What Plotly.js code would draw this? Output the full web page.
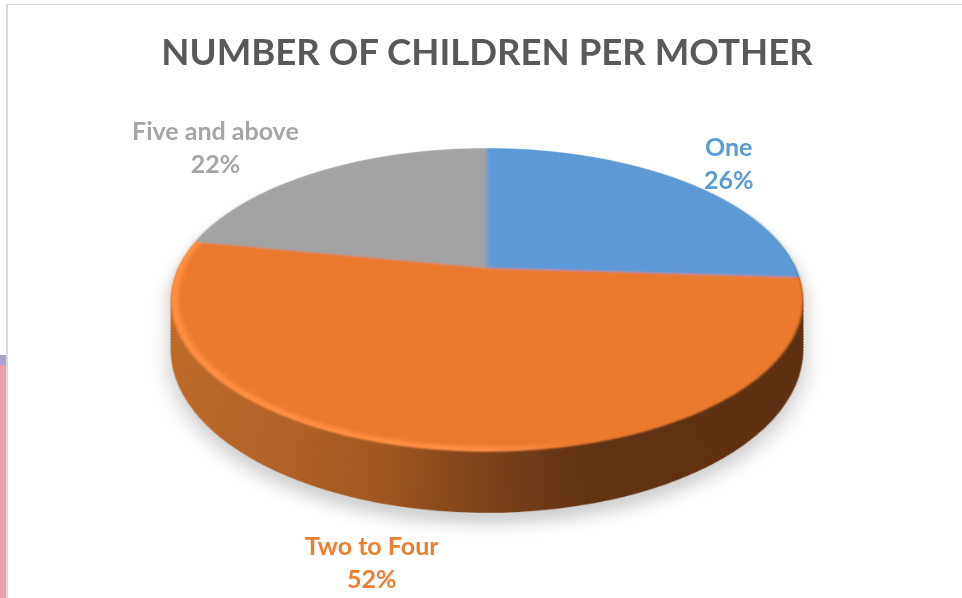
<!DOCTYPE html>
<html>
<head>
<meta charset="utf-8">
<script src="https://cdn.plot.ly/plotly-3.0.1.min.js"></script>
<style>
html,body{margin:0;padding:0;background:#fff;overflow:hidden}
#wrap{position:relative;width:962px;height:598px;overflow:hidden}
#pie{position:absolute;left:-13px;top:-232px;width:1000px;height:1000px;
  transform-origin:500px 500px;transform:perspective(1296px) rotateX(62deg);
  filter:drop-shadow(0 14px 8px rgba(0,0,0,.18))}
#chart{position:absolute;left:0;top:0;width:962px;height:598px}
</style>
</head>
<body>
<div id="wrap"><div id="pie"></div><div id="chart"></div></div>
<script>
const titleText = "NUMBER OF CHILDREN PER MOTHER";
const categories = ["One", "Two to Four", "Five and above"];
const values = [26, 52, 22];
const sliceColors = ["#5b9bd5", "#ed7d31", "#a5a5a5"];
const topColors = ["#5b99d6", "#e97a2f", "#a3a3a3"];
const labelX = [729, 372, 215];
const labelY = [163, 561, 147];

// ---- extruded pie: stacked pie traces, tilted afterwards
const SIZE = 1000, R = 309, DEPTH = 96, STEP = 2, SHRINK = 0.883 / 1296;
function pieTrace(radius, shift, colors, name) {
  const cy = SIZE / 2 + shift;
  return {
    type: "pie", name: name, labels: categories, values: values, sort: false,
    direction: "clockwise", rotation: 0, textinfo: "none", hoverinfo: "skip",
    showlegend: false, marker: {colors: colors, line: {width: 0}},
    domain: {
      x: [(SIZE / 2 - radius) / SIZE, (SIZE / 2 + radius) / SIZE],
      y: [1 - (cy + radius) / SIZE, 1 - (cy - radius) / SIZE]
    }
  };
}
const traces = [];
for (let s = DEPTH; s > 0; s -= STEP) {
  traces.push(pieTrace(R * (1 - s * SHRINK), s, ["#5f3112", "#5f3112", "#5f3112"], "side"));
}
traces.push(pieTrace(R, 0, sliceColors, "rim"));
traces.push(pieTrace(R - 7, 0, topColors, "top"));

const sideStops = [[0, "#c06c28"], [0.2, "#b5652a"], [0.36, "#a3581f"], [0.47, "#84461a"],
                   [0.62, "#623313"], [1, "#5c2f11"]];
const rimStops = [[0, "#ff8f42"], [0.5, "#ff9046"], [0.62, "#e97a2f"], [1, "#e97a2f"]];

const NS = "http://www.w3.org/2000/svg";
function addGradient(defs, id, stops) {
  const g = document.createElementNS(NS, "linearGradient");
  g.setAttribute("id", id);
  g.setAttribute("gradientUnits", "userSpaceOnUse");
  g.setAttribute("x1", SIZE / 2 - R); g.setAttribute("x2", SIZE / 2 + R);
  g.setAttribute("y1", 0); g.setAttribute("y2", 0);
  stops.forEach(st => {
    const e = document.createElementNS(NS, "stop");
    e.setAttribute("offset", st[0]); e.setAttribute("stop-color", st[1]);
    g.appendChild(e);
  });
  defs.appendChild(g);
}
function addBlur(defs, id, dev) {
  const f = document.createElementNS(NS, "filter");
  f.setAttribute("id", id);
  f.setAttribute("filterUnits", "userSpaceOnUse");
  f.setAttribute("x", 0); f.setAttribute("y", 0);
  f.setAttribute("width", SIZE); f.setAttribute("height", SIZE);
  const b = document.createElementNS(NS, "feGaussianBlur");
  b.setAttribute("stdDeviation", dev);
  f.appendChild(b);
  defs.appendChild(f);
}

Plotly.newPlot("pie", traces, {
  width: SIZE, height: SIZE, margin: {l: 0, r: 0, t: 0, b: 0},
  paper_bgcolor: "rgba(0,0,0,0)", plot_bgcolor: "rgba(0,0,0,0)", showlegend: false
}, {displayModeBar: false, staticPlot: true}).then(gd => {
  const svg = gd.querySelector("svg.main-svg");
  const defs = document.createElementNS(NS, "defs");
  svg.insertBefore(defs, svg.firstChild);
  addGradient(defs, "sideGrad", sideStops);
  addGradient(defs, "rimGrad", rimStops);
  addBlur(defs, "softRim", 1.2);
  addBlur(defs, "softTop", 2);
  const groups = gd.querySelectorAll(".pielayer .trace");
  groups.forEach((grp, i) => {
    const paths = grp.querySelectorAll(".slice path.surface");
    if (i < groups.length - 2) paths.forEach(p => p.style.fill = "url(#sideGrad)");
    else if (i === groups.length - 2) {
      if (paths[1]) paths[1].style.fill = "url(#rimGrad)";
      grp.setAttribute("filter", "url(#softRim)");
    } else {
      grp.setAttribute("filter", "url(#softTop)");
    }
  });
});

// ---- title, labels and page furniture
const annotations = categories.map((c, i) => ({
  text: "<b>" + c + "<br>" + values[i] + "%</b>",
  xref: "paper", yref: "paper", x: labelX[i] / 962, y: 1 - labelY[i] / 598,
  xanchor: "center", yanchor: "middle", showarrow: false, align: "center",
  font: {family: "Lato, 'Open Sans', sans-serif", size: 25, color: sliceColors[i]}
}));
Plotly.newPlot("chart", [], {
  width: 962, height: 598, margin: {l: 0, r: 0, t: 0, b: 0},
  paper_bgcolor: "rgba(0,0,0,0)", plot_bgcolor: "rgba(0,0,0,0)",
  xaxis: {visible: false}, yaxis: {visible: false},
  title: {text: "<b>" + titleText + "</b>", x: 487 / 962, xanchor: "center",
          y: 1 - 52 / 598, yanchor: "middle",
          font: {family: "Lato, 'Open Sans', sans-serif", size: 36.6, color: "#595959"}},
  annotations: annotations,
  shapes: [
    {type: "rect", xref: "paper", yref: "paper", x0: 0, x1: 6 / 962, y0: 1 - 365 / 598, y1: 1 - 355 / 598,
     fillcolor: "#a9a3cf", line: {width: 0}},
    {type: "rect", xref: "paper", yref: "paper", x0: 0, x1: 6 / 962, y0: 0, y1: 1 - 365 / 598,
     fillcolor: "#eb9cac", line: {width: 0}},
    {type: "rect", xref: "paper", yref: "paper", x0: 6 / 962, x1: 8 / 962, y0: 0, y1: 1 - 4 / 598,
     fillcolor: "#d9d9d9", line: {width: 0}},
    {type: "rect", xref: "paper", yref: "paper", x0: 6 / 962, x1: 1, y0: 1 - 5 / 598, y1: 1 - 4 / 598,
     fillcolor: "#d9d9d9", line: {width: 0}}
  ]
}, {displayModeBar: false, staticPlot: true});
</script>
</body>
</html>
